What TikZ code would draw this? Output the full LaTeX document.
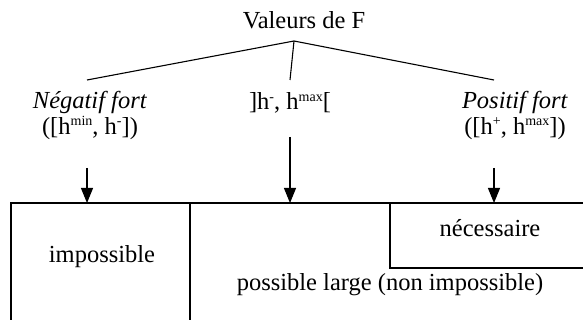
\documentclass[tikz,border=0pt]{standalone}
\usepackage{fontspec}
\setmainfont{Liberation Serif}
\usetikzlibrary{arrows.meta, positioning}

\newcommand{\hsup}[1]{\raisebox{0.75ex}{\fontsize{14}{14}\selectfont #1}}

\begin{document}
\begin{tikzpicture}[x=1pt, y=-1pt, line width=1.1pt, every node/.style={font=\fontsize{24.5}{25.5}\selectfont}]
    \tikzstyle{lbl} = [inner sep=1pt, align=center]
    \tikzstyle{down} = [-{Triangle[length=15pt, width=12pt]}]
    \useasboundingbox (0,0) rectangle (583,320);

    % root and the three cases
    \node [lbl] (val) at (304,20) {Valeurs de F};
    \coordinate (apex) at (294,41);
    \node [lbl] (neg) at (90,115.5) {\textit{Négatif fort}\\([h\hsup{min}, h\hsup{-}])};
    \node [lbl] (mid) at (290,103) {]h\hsup{-}, h\hsup{max}[};
    \node [lbl] (pos) at (515,115.5) {\textit{Positif fort}\\([h\hsup{+}, h\hsup{max}])};
    \coordinate (tneg) at (87,80);
    \coordinate (tmid) at (290,80);
    \coordinate (tpos) at (494,80);

    \draw (apex) -- (tneg);
    \draw (apex) -- (tmid);
    \draw (apex) -- (tpos);

    % the scale of modalities
    \draw (11,330) -- (11,203) -- (590,203);
    \draw (190,203) -- (190,330);
    \draw (390,203) -- (390,268) -- (590,268);
    \coordinate (aneg) at (87,203);
    \coordinate (amid) at (290,203);
    \coordinate (apos) at (494,203);

    \node [lbl] (imp) at (102,257) {impossible};
    \node [lbl] (nec) at (490,228) {nécessaire};
    \node [lbl] (large) at (390,285) {possible large (non impossible)};

    \draw [down] (87,168) -- (aneg);
    \draw [down] (290,137) -- (amid);
    \draw [down] (494,168) -- (apos);
\end{tikzpicture}
\end{document}
